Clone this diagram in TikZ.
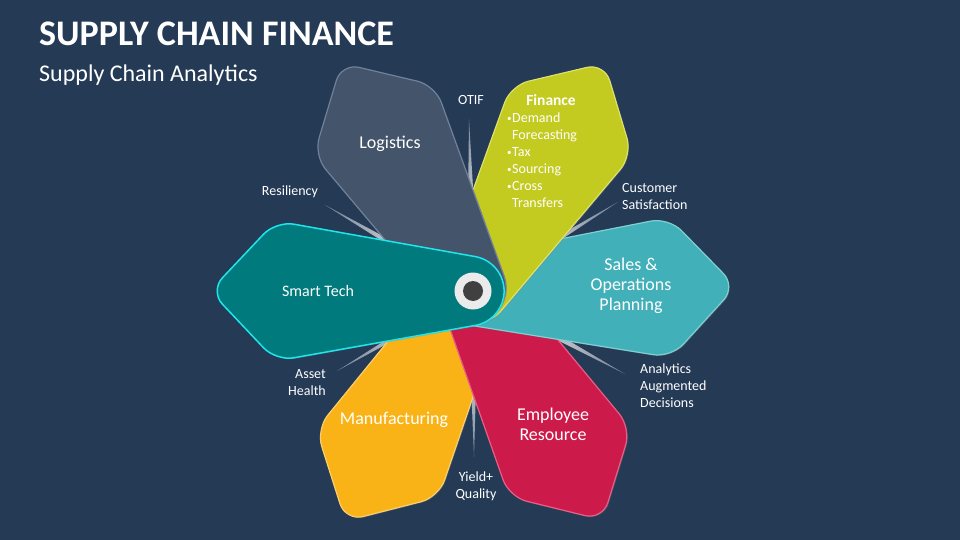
\documentclass[tikz,border=0pt]{standalone}
\usepackage{fontspec}
\setmainfont{Carlito}
\usetikzlibrary{calc,shadows}

\definecolor{backdrop}{HTML}{243A55}
\definecolor{logisticsfill}{HTML}{44546A}
\definecolor{logisticsline}{HTML}{6F819B}
\definecolor{financefill}{HTML}{C3CA20}
\definecolor{financeline}{HTML}{DDE06E}
\definecolor{salesfill}{HTML}{41B0B9}
\definecolor{salesline}{HTML}{7FD0D2}
\definecolor{employeefill}{HTML}{CC1A4A}
\definecolor{employeeline}{HTML}{E65F86}
\definecolor{makingfill}{HTML}{FAB316}
\definecolor{makingline}{HTML}{F9CE70}
\definecolor{smartfill}{HTML}{007A7C}
\definecolor{smartline}{HTML}{1FE5EC}
\definecolor{spikebase}{HTML}{C9CBCD}
\definecolor{spiketip}{HTML}{7D8CA0}

\tikzset{
  petal/.style 2 args={fill=#1, draw=#2, line width=1.2pt, drop shadow={opacity=0.3, shadow xshift=1pt, shadow yshift=-1pt}},
  petaltext/.style={text=white, font=\fontsize{18}{20}\selectfont, align=center},
  smalltext/.style={text=white, font=\fontsize{14}{17}\selectfont, inner sep=0pt},
  spike/.style={shading=axis, top color=spikebase, bottom color=spiketip}
}

\newcommand{\petalpath}{[rounded corners=18pt] (2.3,34.4) -- (-197,70) -- (-263,0) -- (-197,-70) [sharp corners] -- (2.3,-34.4) arc[start angle=79.8, end angle=-79.8, radius=35pt] -- cycle}
\newcommand{\finbullet}{\makebox[5pt][l]{\raisebox{1.2pt}{\small•}}}

\begin{document}
\begin{tikzpicture}[x=1pt, y=-1pt]
  \useasboundingbox (0,0) rectangle (960,540);
  \fill[backdrop] (0,0) rectangle (960,540);

  \coordinate (hub) at (473,291);

  % spikes go under the petals
  \coordinate (otiftip) at (469,119);
  \coordinate (customertip) at (618,202);
  \coordinate (analyticstip) at (625,374);
  \coordinate (yieldtip) at (474,457);
  \coordinate (assettip) at (337,371);
  \coordinate (resiliencytip) at (325,205);
  \foreach \tipname/\ang in {otiftip/180, customertip/120, analyticstip/60, yieldtip/0, assettip/-60, resiliencytip/-120}
    \path[spike, shading angle=\ang] (\tipname) -- ($(\tipname)!90pt!2:(hub)$) -- ($(\tipname)!90pt!-2:(hub)$) -- cycle;

  % petals, last one on top
  \draw[petal={makingfill}{makingline}, shift={(hub)}, rotate=61] \petalpath;
  \draw[petal={employeefill}{employeeline}, shift={(hub)}, rotate=119.5] \petalpath;
  \draw[petal={salesfill}{salesline}, shift={(hub)}, rotate=181] \petalpath;
  \draw[petal={financefill}{financeline}, shift={(hub)}, rotate=240] \petalpath;
  \draw[petal={logisticsfill}{logisticsline}, shift={(hub)}, rotate=300] \petalpath;
  \draw[petal={smartfill}{smartline}, line width=1.5pt, shift={(hub)}] \petalpath;

  \filldraw[fill=white!92!black, draw=none] (hub) circle (18.5pt);
  \filldraw[fill=black!75, draw=none] (hub) circle (10pt);

  % headings
  \node[anchor=base west, inner sep=0pt, text=white, font=\bfseries\fontsize{36}{40}\selectfont] (title) at (39,46) {SUPPLY CHAIN FINANCE};
  \node[anchor=base west, inner sep=0pt, text=white, font=\fontsize{24}{28}\selectfont] (subtitle) at (39,82) {Supply Chain Analytics};

  % petal labels
  \node[petaltext] (logistics) at (390,144) {Logistics};
  \node[petaltext, font=\fontsize{16}{20}\selectfont] (smarttech) at (318,291) {Smart Tech};
  \node[petaltext] (sales) at (631,286) {Sales \&\\Operations\\Planning};
  \node[petaltext] (employee) at (553,424) {Employee\\Resource};
  \node[petaltext] (manufacturing) at (394,420) {Manufacturing};
  \node[smalltext, font=\bfseries\fontsize{15.5}{17}\selectfont] (finance) at (551,100) {Finance};
  \node[smalltext, anchor=north west, align=left] (financelist) at (507,112.5) {\finbullet Demand\\\hspace*{5pt}Forecasting\\\finbullet Tax\\\finbullet Sourcing\\\finbullet Cross\\\hspace*{5pt}Transfers};

  % spike labels
  \node[smalltext] (otif) at (471,100) {OTIF};
  \node[smalltext] (resiliency) at (290,192) {Resiliency};
  \node[smalltext, anchor=west, align=left] (customer) at (622,197) {Customer\\Satisfaction};
  \node[smalltext, anchor=west, align=left] (analytics) at (640,386) {Analytics\\Augmented\\Decisions};
  \node[smalltext, align=center] (yield) at (476,486.5) {Yield+\\Quality};
  \node[smalltext, anchor=east, align=right] (asset) at (326,383) {Asset\\Health};
\end{tikzpicture}
\end{document}
